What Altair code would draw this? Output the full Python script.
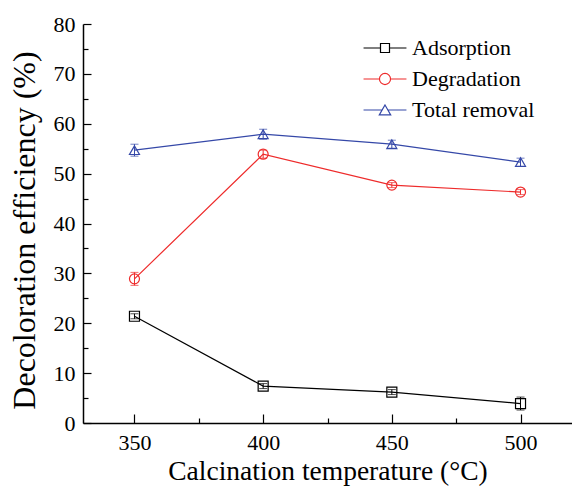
import altair as alt
import pandas as pd

# Calcination temperatures (°C)
temps = [350, 400, 450, 500]

# Decoloration efficiency (%) and error bar half-widths per series
series_names = ["Adsorption", "Degradation", "Total removal"]
adsorption = [21.4, 7.4, 6.2, 3.9]
adsorption_err = [0.5, 0.5, 0.5, 1.3]
degradation = [28.9, 53.9, 47.7, 46.3]
degradation_err = [1.3, 0.8, 0.5, 0.5]
total_removal = [54.7, 57.9, 55.9, 52.3]
total_removal_err = [1.2, 1.0, 0.8, 0.8]

colors = ["#000000", "#ee2b2b", "#3548a8"]
marker_shapes = ["square", "circle", "triangle-up"]
# legend keys: a short line with the open marker in its middle
legend_paths = [
    "M-1.43,0H-0.3M0.3,0H1.43M-0.3,-0.3H0.3V0.3H-0.3Z",
    "M-1.43,0H-0.37M0.37,0H1.43M-0.37,0A0.37,0.37 0 1,0 0.37,0A0.37,0.37 0 1,0 -0.37,0Z",
    "M-1.43,0H-0.19M0.19,0H1.43M0,-0.33L0.38,0.33H-0.38Z",
]

y_ticks = [0, 10, 20, 30, 40, 50, 60, 70, 80]
y_minor = [5, 15, 25, 35, 45, 55, 65, 75]
x_minor = [375, 425, 475]

rows = []
for name, vals, errs in [
    ("Adsorption", adsorption, adsorption_err),
    ("Degradation", degradation, degradation_err),
    ("Total removal", total_removal, total_removal_err),
]:
    for t, v, e in zip(temps, vals, errs):
        rows.append({"temp": t, "value": v, "lo": v - e, "hi": v + e, "series": name})
df = pd.DataFrame(rows)

W, H = 489, 399
FONT = "Liberation Serif"

x_scale = alt.Scale(domain=[330, 520], nice=False, zero=False)
y_scale = alt.Scale(domain=[0, 80], nice=False)
color_scale = alt.Scale(domain=series_names, range=colors)
color_enc = alt.Color("series:N", scale=color_scale, title=None)


def tick_axis(orient, offset, values, size):
    # unlabelled axis used only to draw inward-pointing ticks
    return alt.Axis(orient=orient, offset=offset, values=values, labels=False,
                    domain=False, grid=False, title=None, tickSize=size,
                    tickColor="black", tickWidth=1.2)


base = alt.Chart(df)

lines = base.mark_line(strokeWidth=1.2).encode(
    x=alt.X("temp:Q", scale=x_scale,
            axis=alt.Axis(values=temps, ticks=False, grid=False,
                          title="Calcination temperature (°C)",
                          labelFont=FONT, labelFontSize=22, labelPadding=9,
                          titleFontSize=27.5, titlePadding=4)),
    y=alt.Y("value:Q", scale=y_scale,
            axis=alt.Axis(values=y_ticks, ticks=False, grid=False,
                          title="Decoloration efficiency (%)",
                          labelFont=FONT, labelFontSize=22, labelPadding=8,
                          titleFontSize=32, titlePadding=12, titleY=206)),
    color=color_enc,
    detail="series:N",
)

err_rules = base.mark_rule(strokeWidth=1).encode(
    x=alt.X("temp:Q", scale=x_scale, axis=tick_axis("top", -H, temps, 9)),
    y=alt.Y("lo:Q", scale=y_scale, axis=tick_axis("right", -W, y_ticks, 8)),
    y2="hi:Q",
    color=color_enc,
)

layers = [lines, err_rules]

for i, (name, shape, col) in enumerate(zip(series_names, marker_shapes, colors)):
    part = base.transform_filter(alt.datum.series == name)
    # error bar caps
    layers.append(
        part.transform_fold(["lo", "hi"], as_=["end", "bound"]).mark_tick(
            orient="horizontal", size=8, thickness=1, color=col
        ).encode(
            x=alt.X("temp:Q", scale=x_scale, axis=None),
            y=alt.Y("bound:Q", scale=y_scale, axis=None),
        )
    )
    # open markers; the first layer also carries the minor tick axes
    layers.append(
        part.mark_point(filled=False, size=100, strokeWidth=1.2, shape=shape, opacity=1).encode(
            x=alt.X("temp:Q", scale=x_scale,
                    axis=tick_axis("top", -H, x_minor, 5) if i == 0 else None),
            y=alt.Y("value:Q", scale=y_scale,
                    axis=tick_axis("right", -W, y_minor, 5) if i == 0 else None),
            color=color_enc,
        )
    )

# legend entries only (no marks drawn)
layers.append(
    base.transform_filter("false").mark_point(filled=False).encode(
        color=color_enc,
        shape=alt.Shape("series:N", scale=alt.Scale(domain=series_names, range=legend_paths),
                        title=None),
    )
)

chart = alt.layer(*layers).resolve_axis(
    x="independent", y="independent"
).properties(
    width=W, height=H,
    background="white",
    autosize=alt.AutoSizeParams(type="none"),
    padding={"left": 83, "top": 24, "right": 0, "bottom": 69},
).configure(
    font=FONT
).configure_view(
    stroke=None
).configure_axis(
    labelFont=FONT, titleFont=FONT, labelColor="black", titleColor="black",
    titleFontWeight="normal", domainColor="black", domainWidth=1.5,
).configure_legend(
    orient="none", legendX=286, legendY=8, padding=0,
    labelFont=FONT, labelFontSize=22, labelColor="black", labelOffset=11,
    symbolSize=900, symbolStrokeWidth=1.2, symbolFillColor="transparent", rowPadding=4,
)

chart.save("out.html", embed_options={"renderer": "svg", "actions": False})
